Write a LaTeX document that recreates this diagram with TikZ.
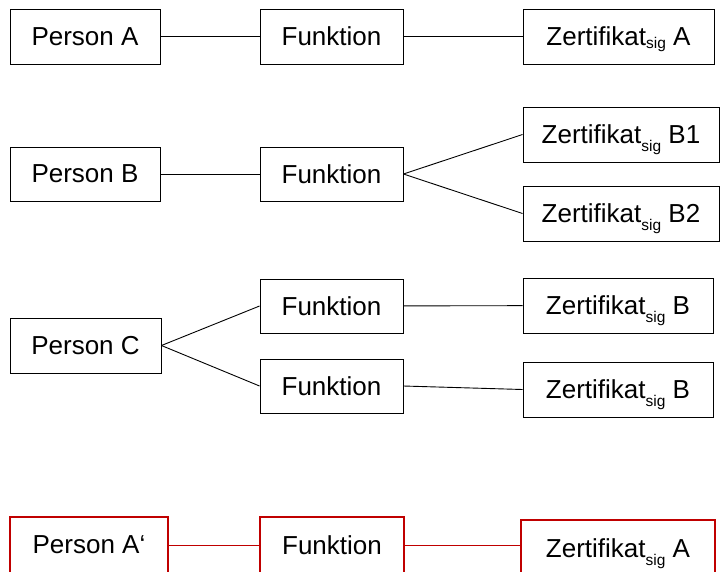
\documentclass[tikz,border=0pt]{standalone}
\usepackage{fontspec}
\setmainfont{Liberation Sans}
\definecolor{darkred}{RGB}{192,0,0}
\newcommand{\sigsub}[1][-0.3em]{\raisebox{#1}[0pt][0pt]{\fontsize{15.5}{15.5}\selectfont sig}}
\tikzset{
  box/.style={draw=black, line width=0.9pt, rectangle, inner sep=0pt, align=center,
    font=\fontsize{26}{30}\selectfont},
  redbox/.style={box, draw=darkred, line width=2pt},
  link/.style={draw=black, line width=0.9pt},
  redlink/.style={draw=darkred, line width=1pt}
}
\begin{document}
\begin{tikzpicture}[x=1pt,y=-1pt]
\useasboundingbox (0,0) rectangle (720,571);
\clip (0,0) rectangle (720,571);

% row A
\node[box, minimum width=150pt, minimum height=55pt] (pa) at (85,36.5) {Person A};
\node[box, minimum width=143pt, minimum height=55pt] (fa) at (331.5,36.5) {Funktion};
\node[box, minimum width=191pt, minimum height=55pt] (za) at (618.5,36.5) {Zertifikat\sigsub[-0.1em] A};
\draw[link] (pa) -- (fa);
\draw[link] (fa) -- (za);

% row B
\node[box, minimum width=150pt, minimum height=54pt] (pb) at (85,174) {Person B};
\node[box, minimum width=143pt, minimum height=54pt] (fb) at (331.5,174) {Funktion};
\node[box, minimum width=196pt, minimum height=55pt] (zb1) at (621,134.5) {Zertifikat\sigsub{} B1};
\node[box, minimum width=196pt, minimum height=55pt] (zb2) at (621,213.5) {Zertifikat\sigsub{} B2};
\draw[link] (pb) -- (fb);
\draw[link] (fb.east) -- (zb1.west);
\draw[link] (fb.east) -- (zb2.west);

% row C
\node[box, minimum width=151pt, minimum height=55pt] (pc) at (85.5,345.5) {Person C};
\node[box, minimum width=143pt, minimum height=54pt] (fc1) at (331.5,306) {Funktion};
\node[box, minimum width=143pt, minimum height=54pt] (fc2) at (331.5,386) {Funktion};
\node[box, minimum width=190pt, minimum height=55pt] (zc1) at (618,305.5) {Zertifikat\sigsub{} B};
\node[box, minimum width=190pt, minimum height=55pt] (zc2) at (618,389.5) {Zertifikat\sigsub{} B};
\draw[link] (pc.east) -- (fc1.west);
\draw[link] (pc.east) -- (fc2.west);
\draw[link] (fc1) -- (zc1);
\draw[link] (fc2.east) -- (zc2.west);

% row A' (red)
\node[redbox, minimum width=158pt, minimum height=56pt] (pa2) at (89,545) {Person A‘};
\node[redbox, minimum width=144pt, minimum height=56pt] (fa2) at (332,545) {Funktion};
\node[redbox, minimum width=194pt, minimum height=56pt] (za2) at (618,548) {Zertifikat\sigsub{} A};
\draw[redlink] (pa2.east) -- (fa2.west);
\draw[redlink] (fa2.east) -- (za2.west |- fa2.east);
\end{tikzpicture}
\end{document}
